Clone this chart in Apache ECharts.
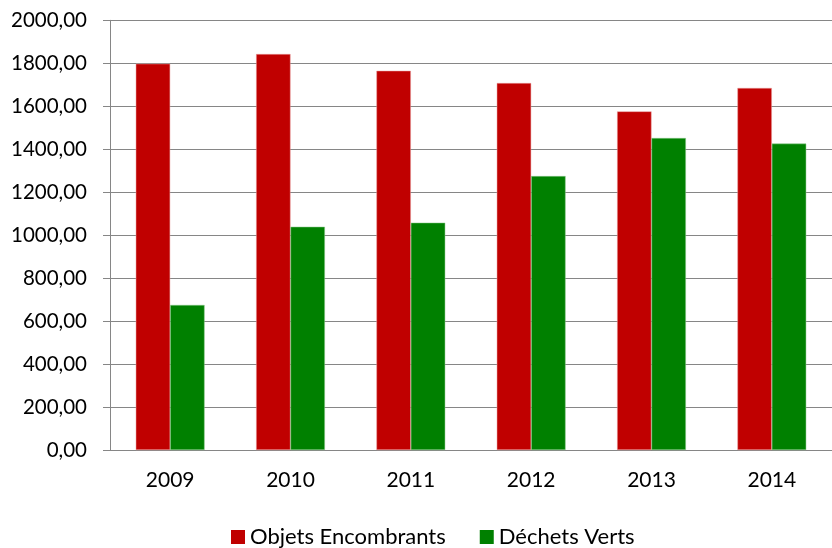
<!DOCTYPE html>
<html><head><meta charset="utf-8">
<script src="https://cdn.jsdelivr.net/npm/echarts@6/dist/echarts.min.js"></script>
<style>html,body{margin:0;padding:0;background:#fff}#c{width:832px;height:548px}</style>
</head><body><div id="c"></div>
<script>
const categories = ['2009','2010','2011','2012','2013','2014'];
const objetsEncombrants = [1798, 1843, 1765, 1708, 1576, 1685];
const dechetsVerts = [675, 1039, 1058, 1275, 1452, 1426];
const seriesNames = ['Objets Encombrants', 'Déchets Verts'];

const FONT = 'Lato';
const chart = echarts.init(document.getElementById('c'), null, {renderer: 'canvas'});
chart.setOption({
  animation: false,
  backgroundColor: '#fff',
  grid: {left: 110, right: -5, top: 20.3, bottom: 98, containLabel: false},
  legend: {
    left: 226, top: 521, itemWidth: 14, itemHeight: 14, itemGap: 34,
    icon: 'rect',
    itemStyle: {borderWidth: 0},
    textStyle: {fontFamily: FONT, fontSize: 22, color: '#000', padding: [0,0,0,0]},
    data: seriesNames
  },
  xAxis: {
    type: 'category', data: categories,
    axisLine: {lineStyle: {color: '#868686', width: 1}},
    axisTick: {length: 7, lineStyle: {color: '#868686'}},
    axisLabel: {fontFamily: FONT, fontSize: 21, color: '#000', margin: 20}
  },
  yAxis: {
    type: 'value', min: 0, max: 2000, interval: 200,
    axisLine: {show: true, lineStyle: {color: '#868686', width: 1}},
    axisTick: {show: true, length: 7, lineStyle: {color: '#868686'}},
    splitLine: {lineStyle: {color: '#868686', width: 1}},
    axisLabel: {fontFamily: FONT, fontSize: 20.5, color: '#000', margin: 23,
      formatter: v => v.toFixed(2).replace('.', ',')}
  },
  series: [
    {name: seriesNames[0], type: 'bar', data: objetsEncombrants, barWidth: 34.4, barGap: '0%',
     itemStyle: {color: '#C00000', borderColor: '#e8a0a0', borderWidth: 0.5}},
    {name: seriesNames[1], type: 'bar', data: dechetsVerts, barWidth: 34.4, barGap: '0%',
     itemStyle: {color: '#008000', borderColor: '#8cc88c', borderWidth: 0.5}}
  ]
});
</script></body></html>
